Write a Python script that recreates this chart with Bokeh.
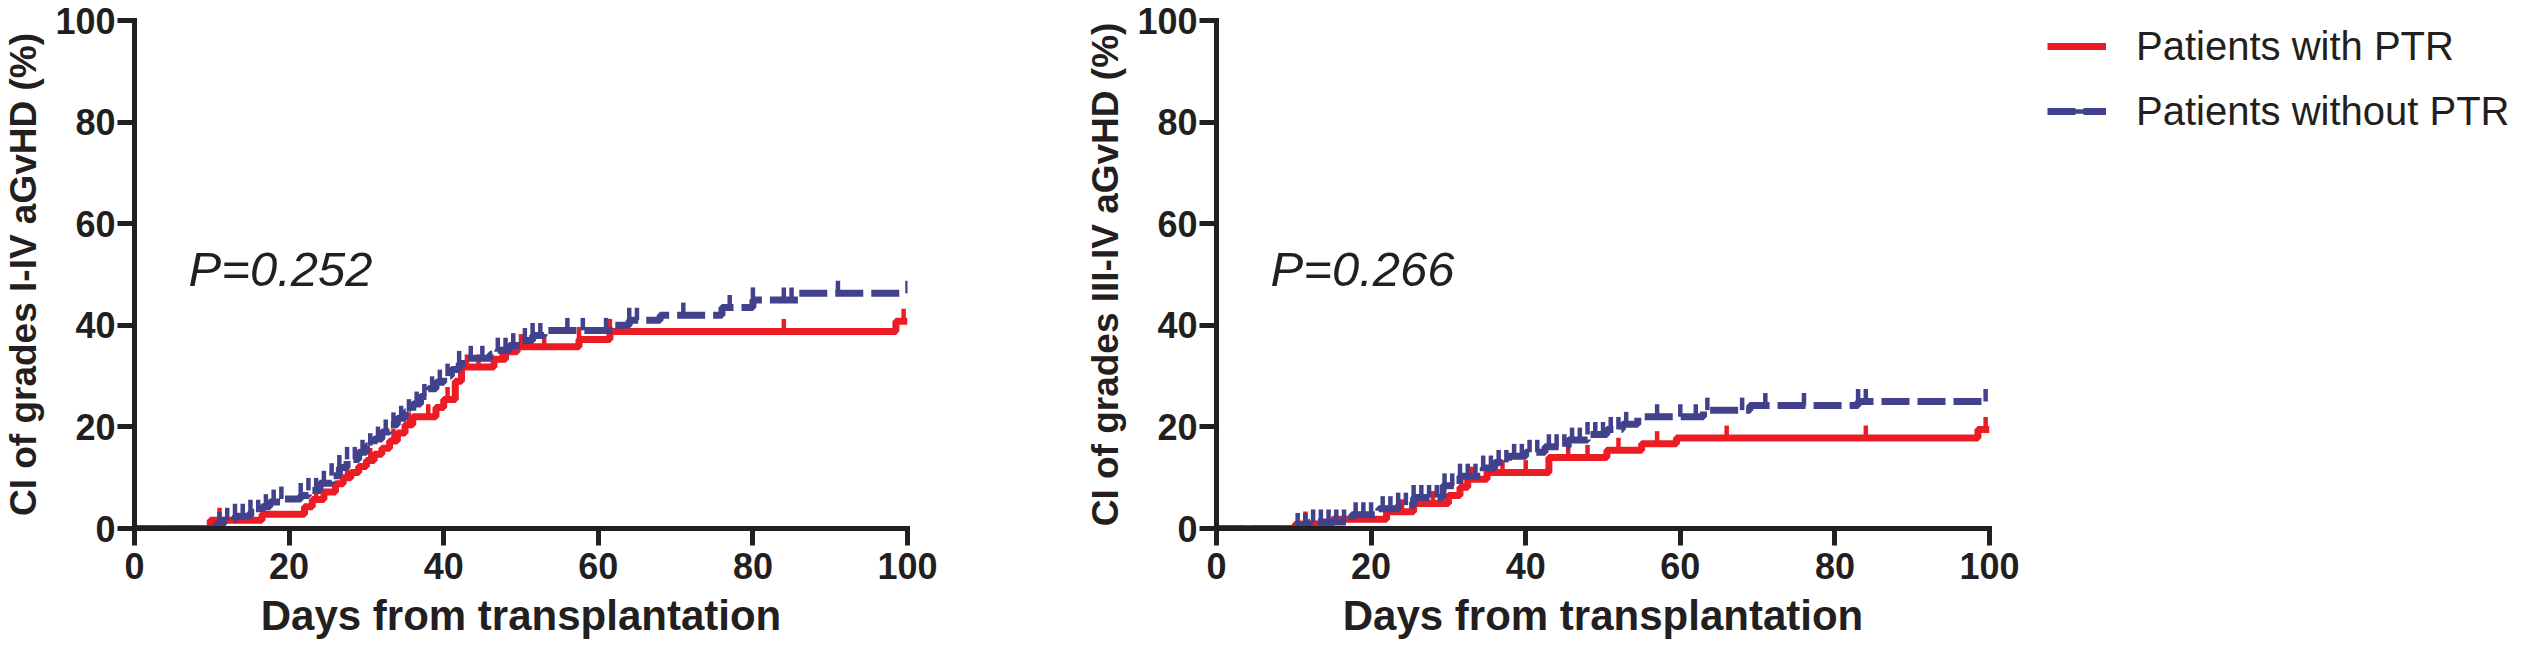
import numpy as np
from bokeh.plotting import figure
from bokeh.models import Range1d, Legend, LegendItem
from bokeh.layouts import row
from bokeh.embed import file_html
from bokeh.resources import INLINE
from bokeh.core.properties import value

# ---------------- data ----------------
FOLLOW_UP_END = 100
TICKS = [0, 20, 40, 60, 80, 100]

# Left panel: grades I-IV aGvHD
L_PTR_DAYS = [0, 9.8, 16.5, 22, 23, 24.5, 26, 27, 28, 29, 30, 31, 32, 33, 34, 35, 36,
              39, 40, 41.5, 42.3, 46.5, 48, 49.5, 57.5, 61.5, 98.5]
L_PTR_CI = [0, 1.6, 2.8, 4.3, 5.7, 7.2, 8.8, 10.0, 11.0, 12.2, 13.4, 14.6, 15.8, 17.2, 18.8,
            20.4, 22.0, 23.8, 25.4, 29.0, 31.8, 33.3, 34.8, 35.8, 37.2, 38.8, 40.8]
L_PTR_CENSOR = [11, 23.5, 27.5, 30.5, 33.5, 35.5, 38, 40.5, 43, 44.5, 47.5, 50, 53, 57.5,
                61.5, 84, 99.5]

L_NOPTR_DAYS = [0, 10.5, 11.5, 13, 15, 16.5, 17.5, 19, 21.5, 22.5, 24, 25.5, 26.5, 27.5, 29,
                30, 31, 32, 33, 34, 35, 36, 37, 38, 39, 40, 41, 42, 43, 46, 47, 48.5, 50,
                51.5, 53, 62, 64, 68, 76, 80, 86]
L_NOPTR_CI = [0, 0.8, 1.6, 2.4, 3.2, 4.3, 5.2, 5.8, 6.5, 7.5, 8.9, 10.4, 12.0, 13.6, 15.0,
              16.3, 17.6, 19.0, 20.4, 21.7, 23.0, 24.5, 26.0, 27.5, 28.8, 30.0, 31.3, 32.5,
              33.5, 34.3, 35.1, 36.0, 37.0, 38.0, 39.0, 40.0, 41.0, 42.0, 43.5, 45.0, 46.3]
L_NOPTR_CENSOR = [11, 12, 13, 14, 15, 16, 17, 18, 19, 21.5, 22.5, 23.5, 24.5, 25.5, 26.5,
                  27.5, 28.5, 29.5, 30.5, 31.5, 32.5, 33.5, 34.5, 35.5, 36.5, 37.5, 38.5,
                  39.5, 40.5, 42, 43.5, 45, 47, 48, 49, 50.5, 51.5, 52.5, 56, 58, 61, 64,
                  65, 71, 77, 80, 84, 85, 91, 100]

# Right panel: grades III-IV aGvHD
R_PTR_DAYS = [0, 10.2, 15, 22, 25.5, 30, 31.5, 32.5, 35, 43, 50.5, 55, 59.5, 98.5]
R_PTR_CI = [0, 0.9, 1.8, 3.3, 4.9, 6.5, 8.1, 9.7, 11.0, 14.0, 15.4, 16.7, 17.8, 19.5]
R_PTR_CENSOR = [11.5, 24, 28, 33, 37, 40, 45.5, 48, 52, 57, 66, 84, 99.5]

R_NOPTR_DAYS = [0, 10.5, 12, 17.5, 21, 23.5, 25.5, 29.3, 31.5, 34.5, 36, 37.8, 40, 42.5,
                45.5, 48, 50.5, 52.5, 54.5, 63, 69, 83]
R_NOPTR_CI = [0, 0.6, 1.3, 2.7, 3.9, 4.6, 6.1, 8.4, 10.3, 11.9, 13.0, 14.2, 15.0, 16.1,
              17.4, 18.5, 19.5, 20.5, 22.0, 23.3, 24.2, 25.0]
R_NOPTR_CENSOR = [10.5, 11.5, 12.5, 13.5, 14.5, 15.5, 16.5, 18, 19, 20, 21.5, 22.5, 23.5,
                  24.5, 25.5, 26.5, 27.5, 28.5, 29.5, 30.5, 31.5, 32.5, 33.5, 34.5, 35.5,
                  36.5, 37.5, 38.5, 39.5, 40.5, 41.5, 43, 44, 45, 46, 47, 48, 49, 50, 51,
                  52, 53, 57, 60, 62, 63.5, 68, 71, 76, 83, 84, 99.5]

P_LEFT = "P=0.252"
P_RIGHT = "P=0.266"
P_POS = (7.0, 51)

LABEL_PTR = "Patients with PTR"
LABEL_NOPTR = "Patients without PTR"
YLABEL_LEFT = "CI of grades I-IV aGvHD (%)"
YLABEL_RIGHT = "CI of grades III-IV aGvHD (%)"
XLABEL = "Days from transplantation"

# ---------------- style ----------------
RED = "#EC1C24"
BLUE = "#41418C"
INK = "#231F20"
FONT = "Liberation Sans"
H = 652
TOP = 20
BOTTOM = 124
LEFT = 129
FRAME_W = 778
W1 = 1082
W2 = 940
W_TOTAL = 2508
CURVE_W = 7
DASH = "28 8"
TICK_PX = 12.5
TICK_W = 4.5
LEG_ROW = 52
LEG_GAP = 13
LEG_LEFT = 25


def step_value(days, ci, t):
    d = np.asarray(days, dtype=float)
    c = np.asarray(ci, dtype=float)
    idx = np.searchsorted(d, np.asarray(t, dtype=float), side="right") - 1
    return c[idx]


def draw_group(p, days, ci, cens, color, dash, tick_units):
    xs = list(days) + [FOLLOW_UP_END]
    ys = list(ci) + [ci[-1]]
    ln = p.step(xs, ys, mode="after", line_color=color, line_width=CURVE_W, line_dash=dash)
    v = step_value(days, ci, cens)
    tk = p.scatter(x=cens, y=v + tick_units / 2, marker="dash", angle=np.pi / 2,
                   size=TICK_PX, line_color=color, line_width=TICK_W)
    return ln, tk


def panel(width, min_right, ylabel, ptext, ptr, noptr):
    p = figure(width=width, height=H, x_range=Range1d(0, 100), y_range=Range1d(0, 100),
               output_backend="svg", toolbar_location=None,
               min_border_left=LEFT, min_border_right=min_right,
               min_border_top=TOP, min_border_bottom=BOTTOM)
    p.outline_line_color = None
    p.grid.visible = False
    p.background_fill_color = "white"
    p.border_fill_color = "white"

    frame_h = H - TOP - BOTTOM
    tick_units = TICK_PX * 100.0 / frame_h
    draw_group(p, *ptr, RED, "solid", tick_units)
    draw_group(p, *noptr, BLUE, DASH, tick_units)

    p.text(x=[P_POS[0]], y=[P_POS[1]], text=[ptext], text_font=value(FONT),
           text_font_style="italic", text_font_size="49px", text_color=INK,
           text_baseline="alphabetic", text_align="left")

    for ax in (p.xaxis, p.yaxis):
        ax.ticker = TICKS
        ax.axis_line_width = 5
        ax.axis_line_color = INK
        ax.axis_line_cap = "square"
        ax.major_tick_line_width = 5
        ax.major_tick_line_color = INK
        ax.major_tick_in = 0
        ax.major_tick_out = 17
        ax.minor_tick_line_color = None
        ax.major_label_text_font = FONT
        ax.major_label_text_font_style = "bold"
        ax.major_label_text_font_size = "36px"
        ax.major_label_text_color = INK
        ax.axis_label_text_font = FONT
        ax.axis_label_text_font_style = "bold"
        ax.axis_label_text_color = INK
    p.xaxis.axis_label = XLABEL
    p.xaxis.axis_label_text_font_size = "42px"
    p.xaxis.major_label_standoff = 7
    p.xaxis.axis_label_standoff = 10
    p.yaxis.axis_label = ylabel
    p.yaxis.axis_label_text_font_size = "37px"
    p.yaxis.major_label_standoff = 2
    p.yaxis.axis_label_standoff = 8
    return p


p1 = panel(W1, W1 - LEFT - FRAME_W, YLABEL_LEFT, P_LEFT,
           (L_PTR_DAYS, L_PTR_CI, L_PTR_CENSOR),
           (L_NOPTR_DAYS, L_NOPTR_CI, L_NOPTR_CENSOR))
p2 = panel(W2, W2 - LEFT - FRAME_W, YLABEL_RIGHT, P_RIGHT,
           (R_PTR_DAYS, R_PTR_CI, R_PTR_CENSOR),
           (R_NOPTR_DAYS, R_NOPTR_CI, R_NOPTR_CENSOR))

# legend panel: its own frame; the key glyphs reuse the right-panel series, kept
# outside this frame's ranges so that only the legend itself is visible here
W3 = W_TOTAL - W1 - W2
p3 = figure(width=W3, height=H, x_range=Range1d(-2, -1), y_range=Range1d(-2, -1),
            x_axis_type=None, y_axis_type=None, output_backend="svg",
            toolbar_location=None, min_border_left=LEG_LEFT, min_border_top=TOP,
            min_border_right=0, min_border_bottom=0)
p3.grid.visible = False
p3.outline_line_color = None
p3.background_fill_color = "white"
p3.border_fill_color = "white"
leg_red = draw_group(p3, R_PTR_DAYS, R_PTR_CI, R_PTR_CENSOR, RED, "solid", 2.4)
leg_blue = draw_group(p3, R_NOPTR_DAYS, R_NOPTR_CI, R_NOPTR_CENSOR, BLUE, DASH, 2.4)

legend = Legend(items=[LegendItem(label=LABEL_PTR, renderers=list(leg_red)),
                       LegendItem(label=LABEL_NOPTR, renderers=list(leg_blue))],
                location="top_left", margin=0, padding=0,
                spacing=LEG_GAP, glyph_width=59, glyph_height=LEG_ROW,
                label_height=LEG_ROW, label_standoff=30,
                label_text_font=FONT, label_text_font_size="40px", label_text_color=INK,
                border_line_color=None, background_fill_alpha=0)
p3.add_layout(legend)

layout = row(p1, p2, p3)
open("out.html", "w").write(file_html(layout, INLINE))
